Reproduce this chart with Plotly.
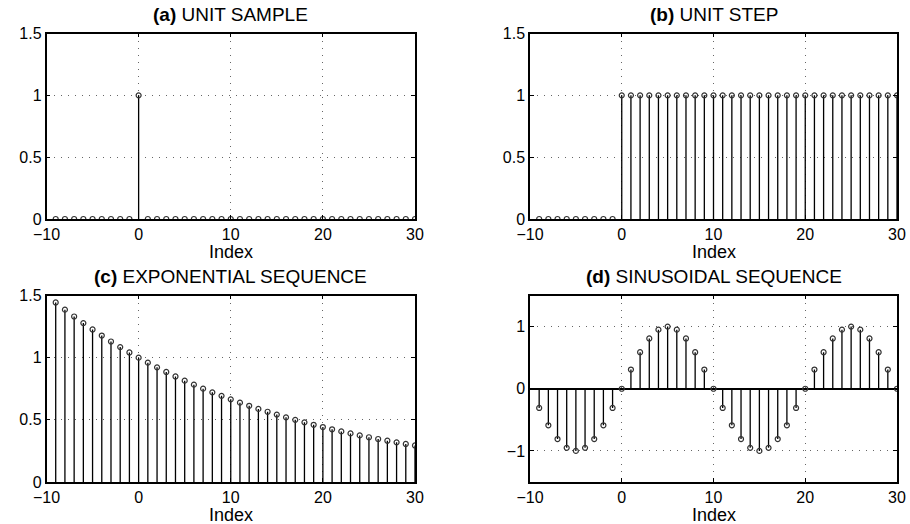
import plotly.graph_objects as go

# ---- data ----
n = list(range(-9, 31))
unit_sample = [0]*9 + [1] + [0]*30
unit_step = [0]*9 + [1]*31
exponential = [1.444, 1.386, 1.331, 1.278, 1.227, 1.178, 1.130, 1.085, 1.042,
               1.000, 0.960, 0.922, 0.885, 0.849, 0.815, 0.783, 0.751, 0.721,
               0.693, 0.665, 0.638, 0.613, 0.588, 0.565, 0.542, 0.520, 0.500,
               0.480, 0.460, 0.442, 0.424, 0.407, 0.391, 0.375, 0.360, 0.346,
               0.332, 0.319, 0.306, 0.294]
sinusoid = [-0.309, -0.588, -0.809, -0.951, -1.0, -0.951, -0.809, -0.588, -0.309,
            0.0, 0.309, 0.588, 0.809, 0.951, 1.0, 0.951, 0.809, 0.588, 0.309,
            0.0, -0.309, -0.588, -0.809, -0.951, -1.0, -0.951, -0.809, -0.588, -0.309,
            0.0, 0.309, 0.588, 0.809, 0.951, 1.0, 0.951, 0.809, 0.588, 0.309, 0.0]
titles = ["<b>(a)</b> UNIT SAMPLE", "<b>(b)</b> UNIT STEP",
          "<b>(c)</b> EXPONENTIAL SEQUENCE", "<b>(d)</b> SINUSOIDAL SEQUENCE"]
x_ticks = [-10, 0, 10, 20, 30]
x_tick_text = ["\u221210", "0", "10", "20", "30"]
y_ticks_main = [0, 0.5, 1, 1.5]
y_tick_text_main = ["0", "0.5", "1", "1.5"]
y_ticks_sin = [-1, 0, 1]
y_tick_text_sin = ["\u22121", "0", "1"]

W, H = 910, 524
FONT = "Liberation Sans, Arial, Helvetica, sans-serif"

# panel pixel boxes: (left, right, top, bottom)
boxes = [(46.5, 415, 33.5, 219), (530, 897, 33.5, 219),
         (46.5, 415, 295.5, 482), (530, 897, 295.5, 482)]
series = [unit_sample, unit_step, exponential, sinusoid]

fig = go.Figure()
layout = {}
annotations = []
for i, (ys, box) in enumerate(zip(series, boxes)):
    k = "" if i == 0 else str(i + 1)
    xa, ya = "x" + k, "y" + k
    l, r, t, b = box
    sx, sy = [], []
    for xv, yv in zip(n, ys):
        sx += [xv, xv, None]
        sy += [0, yv, None]
    fig.add_trace(go.Scatter(x=sx, y=sy, mode="lines", xaxis=xa, yaxis=ya,
                             line=dict(color="black", width=1.3),
                             hoverinfo="skip", showlegend=False))
    fig.add_trace(go.Scatter(x=n, y=ys, mode="markers", xaxis=xa, yaxis=ya,
                             marker=dict(symbol="circle-open", size=5,
                                         color="#333", line=dict(width=1.2)),
                             showlegend=False))
    is_sin = (i == 3)
    grid = dict(showgrid=True, gridcolor="#666", gridwidth=1, griddash="1px,6px")
    layout["xaxis" + k] = dict(domain=[l / W, r / W], anchor=ya, range=[-10, 30],
                               automargin=False,
                               tickvals=x_ticks, ticktext=x_tick_text,
                               ticks="inside", ticklen=4, tickcolor="black",
                               showline=True, linecolor="black", linewidth=1.5,
                               mirror="ticks", zeroline=False,
                               tickfont=dict(family=FONT, size=16, color="black"),
                               **grid)
    layout["yaxis" + k] = dict(domain=[1 - b / H, 1 - t / H], anchor=xa,
                               automargin=False,
                               range=[-1.5, 1.5] if is_sin else [0, 1.5],
                               tickvals=y_ticks_sin if is_sin else y_ticks_main,
                               ticktext=y_tick_text_sin if is_sin else y_tick_text_main,
                               ticks="inside", ticklen=4, tickcolor="black",
                               showline=True, linecolor="black", linewidth=1.5,
                               mirror="ticks",
                               zeroline=is_sin, zerolinecolor="black", zerolinewidth=1.5,
                               tickfont=dict(family=FONT, size=16, color="black"),
                               **grid)
    cx = (l + r) / 2 / W
    annotations.append(dict(text=titles[i], x=cx, y=1 - (t - 19) / H, xref="paper",
                            yref="paper", xanchor="center", yanchor="middle",
                            showarrow=False,
                            font=dict(family=FONT, size=19, color="black")))
    annotations.append(dict(text="Index", x=cx, y=1 - (b + 33) / H, xref="paper",
                            yref="paper", xanchor="center", yanchor="middle",
                            showarrow=False,
                            font=dict(family=FONT, size=18, color="black")))

fig.update_layout(width=W, height=H, margin=dict(l=0, r=0, t=0, b=0),
                  paper_bgcolor="white", plot_bgcolor="white",
                  annotations=annotations, **layout)
fig.write_html("out.html")
